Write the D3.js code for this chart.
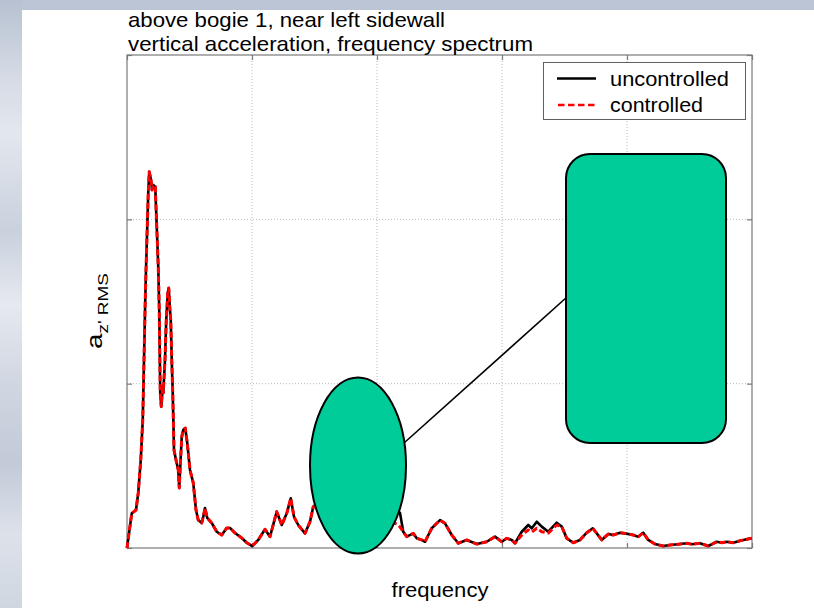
<!DOCTYPE html>
<html>
<head>
<meta charset="utf-8">
<script src="https://cdn.jsdelivr.net/npm/d3@7"></script>
<style>
  html, body { margin: 0; padding: 0; background: #fff; }
  svg { display: block; font-family: "Liberation Sans", Arial, sans-serif; }
</style>
</head>
<body>
<svg id="chart" width="814" height="608"></svg>
<script>
// Frequency axis samples (arbitrary units, 0..50) and RMS vertical acceleration
const freq = [
  0.00, 0.38, 0.72, 0.90, 1.10, 1.26, 1.36, 1.46, 1.52, 1.62, 1.70, 1.78, 1.92, 2.00, 2.10, 2.26,
  2.38, 2.50, 2.58, 2.66, 2.74, 2.86, 2.90, 3.04, 3.14, 3.26, 3.34, 3.42, 3.50, 3.58, 3.66, 3.76,
  3.92, 4.10, 4.18, 4.26, 4.38, 4.50, 4.66, 4.82, 5.04, 5.30, 5.52, 5.70, 5.98, 6.10, 6.24, 6.42,
  6.78, 7.18, 7.58, 7.98, 8.24, 8.64, 9.18, 9.58, 10.02, 10.50, 11.04, 11.44, 11.98, 12.38, 12.78, 13.10,
  13.36, 13.70, 14.24, 14.64, 14.90, 15.28, 15.84, 16.48, 17.20, 18.00, 18.80, 19.60, 20.40, 21.04, 21.60, 21.84,
  22.10, 22.38, 22.90, 23.18, 23.58, 23.84, 24.38, 25.04, 25.44, 25.98, 26.50, 27.18, 27.98, 28.78, 29.44, 29.98,
  30.38, 30.78, 31.04, 31.58, 32.10, 32.38, 32.78, 33.18, 33.70, 34.38, 34.78, 35.18, 35.70, 36.24, 36.78, 37.26,
  37.58, 37.98, 38.50, 38.90, 39.44, 39.84, 40.10, 40.50, 40.90, 41.30, 41.70, 42.24, 42.90, 43.44, 44.10, 44.78,
  45.18, 45.84, 46.50, 47.18, 47.58, 47.98, 48.50, 49.04, 49.58, 49.98
];

const uncontrolled = [
  0.000, 0.211, 0.231, 0.335, 0.536, 0.779, 1.144, 1.509, 1.692, 1.953, 2.160, 2.290, 2.239, 2.179, 2.209, 2.199,
  1.955, 1.712, 1.448, 0.943, 0.860, 0.982, 0.943, 1.144, 1.387, 1.552, 1.582, 1.468, 1.387, 1.144, 0.943, 0.596,
  0.536, 0.475, 0.365, 0.495, 0.677, 0.718, 0.730, 0.639, 0.475, 0.396, 0.231, 0.170, 0.152, 0.190, 0.243, 0.183,
  0.152, 0.099, 0.079, 0.122, 0.122, 0.091, 0.061, 0.032, 0.012, 0.049, 0.114, 0.069, 0.221, 0.140, 0.211, 0.302,
  0.190, 0.140, 0.089, 0.160, 0.251, 0.274, 0.201, 0.140, 0.170, 0.110, 0.158, 0.122, 0.183, 0.158, 0.231, 0.213,
  0.099, 0.069, 0.089, 0.059, 0.049, 0.038, 0.120, 0.170, 0.150, 0.079, 0.029, 0.049, 0.024, 0.038, 0.069, 0.038,
  0.059, 0.049, 0.029, 0.099, 0.140, 0.120, 0.160, 0.130, 0.099, 0.154, 0.130, 0.059, 0.032, 0.049, 0.093, 0.120,
  0.089, 0.049, 0.085, 0.079, 0.093, 0.089, 0.085, 0.079, 0.069, 0.093, 0.049, 0.024, 0.012, 0.018, 0.023, 0.029,
  0.023, 0.029, 0.012, 0.038, 0.032, 0.038, 0.032, 0.044, 0.053, 0.059
];

const controlled = [
  0.000, 0.211, 0.231, 0.335, 0.536, 0.779, 1.144, 1.509, 1.692, 1.953, 2.160, 2.290, 2.239, 2.179, 2.209, 2.199,
  1.955, 1.712, 1.448, 0.943, 0.860, 0.982, 0.943, 1.144, 1.387, 1.552, 1.582, 1.468, 1.387, 1.144, 0.943, 0.596,
  0.536, 0.475, 0.365, 0.495, 0.677, 0.718, 0.730, 0.639, 0.475, 0.396, 0.231, 0.170, 0.152, 0.190, 0.243, 0.183,
  0.152, 0.099, 0.079, 0.122, 0.122, 0.091, 0.061, 0.032, 0.012, 0.049, 0.114, 0.069, 0.221, 0.140, 0.211, 0.302,
  0.190, 0.140, 0.089, 0.160, 0.251, 0.274, 0.201, 0.140, 0.170, 0.110, 0.158, 0.122, 0.183, 0.158, 0.146, 0.128,
  0.099, 0.069, 0.089, 0.059, 0.049, 0.038, 0.120, 0.170, 0.150, 0.079, 0.029, 0.049, 0.024, 0.038, 0.069, 0.038,
  0.059, 0.049, 0.029, 0.079, 0.110, 0.097, 0.120, 0.099, 0.091, 0.140, 0.130, 0.059, 0.032, 0.049, 0.093, 0.120,
  0.089, 0.049, 0.085, 0.079, 0.093, 0.089, 0.085, 0.079, 0.069, 0.093, 0.049, 0.024, 0.012, 0.018, 0.023, 0.029,
  0.023, 0.029, 0.012, 0.038, 0.032, 0.038, 0.032, 0.044, 0.053, 0.059
];

// Grid / tick positions (axes carry no tick labels)
const xTicks = [0, 10, 20, 30, 40, 50];
const yTicks = [0, 1, 2, 3];

const titleLines = ["above bogie 1, near left sidewall", "vertical acceleration, frequency spectrum"];
const seriesNames = ["uncontrolled", "controlled"];
const xLabel = "frequency";

const svg = d3.select("#chart");
const W = 814, H = 608;
const plot = { left: 127, top: 55, right: 752, bottom: 548 };

// --- slide background: bluish-grey band at top and cloudy strip on the left
const defs = svg.append("defs");
const lg = defs.append("linearGradient").attr("id", "leftStrip")
  .attr("x1", 0).attr("y1", 0).attr("x2", 0).attr("y2", 1);
[[0, "#b7c1d1"], [0.12, "#d4dae4"], [0.22, "#e3e7ee"], [0.38, "#c9d1dd"], [0.5, "#e6e9ef"],
 [0.62, "#d2d8e2"], [0.76, "#c2cad8"], [0.88, "#dde2ea"], [1, "#cfd6e0"]]
  .forEach(([o, c]) => lg.append("stop").attr("offset", o).attr("stop-color", c));

svg.append("rect").attr("x", 0).attr("y", 0).attr("width", W).attr("height", H).attr("fill", "#fff");
svg.append("rect").attr("x", 0).attr("y", 0).attr("width", W).attr("height", 10).attr("fill", "#bcc5d5");
svg.append("rect").attr("x", 0).attr("y", 0).attr("width", 22).attr("height", H)
  .attr("fill", "url(#leftStrip)");

// --- scales
const x = d3.scaleLinear().domain([0, 50]).range([plot.left, plot.right]);
const y = d3.scaleLinear().domain([0, 3]).range([plot.bottom, plot.top]);

const g = svg.append("g");

// dotted grid
g.append("g").selectAll("line").data(xTicks.slice(1, -1)).join("line")
  .attr("x1", d => x(d)).attr("x2", d => x(d))
  .attr("y1", plot.top).attr("y2", plot.bottom)
  .attr("stroke", "#b8b8b8").attr("stroke-width", 1).attr("stroke-dasharray", "1,2");
g.append("g").selectAll("line").data(yTicks.slice(1, -1)).join("line")
  .attr("x1", plot.left).attr("x2", plot.right)
  .attr("y1", d => y(d)).attr("y2", d => y(d))
  .attr("stroke", "#b8b8b8").attr("stroke-width", 1).attr("stroke-dasharray", "1,2");

// axes with inward ticks and no labels, mirrored on the opposite sides
const tickLen = 5;
const axisStyle = sel => {
  sel.select(".domain").remove();
  sel.selectAll("text").remove();
  sel.selectAll("line").attr("stroke", "#7a7a7a").attr("stroke-width", 1.2);
};
g.append("g").attr("transform", `translate(0,${plot.bottom})`)
  .call(d3.axisBottom(x).tickValues(xTicks).tickSize(-tickLen).tickFormat("")).call(axisStyle);
g.append("g").attr("transform", `translate(0,${plot.top})`)
  .call(d3.axisTop(x).tickValues(xTicks).tickSize(-tickLen).tickFormat("")).call(axisStyle);
g.append("g").attr("transform", `translate(${plot.left},0)`)
  .call(d3.axisLeft(y).tickValues(yTicks).tickSize(-tickLen).tickFormat("")).call(axisStyle);
g.append("g").attr("transform", `translate(${plot.right},0)`)
  .call(d3.axisRight(y).tickValues(yTicks).tickSize(-tickLen).tickFormat("")).call(axisStyle);

g.append("rect").attr("x", plot.left).attr("y", plot.top)
  .attr("width", plot.right - plot.left).attr("height", plot.bottom - plot.top)
  .attr("fill", "none").attr("stroke", "#7a7a7a").attr("stroke-width", 1.2);

// spectra
const line = d3.line().x((d, i) => x(freq[i])).y(d => y(d));
g.append("path").datum(uncontrolled).attr("d", line)
  .attr("fill", "none").attr("stroke", "#000").attr("stroke-width", 2.6)
  .attr("stroke-linejoin", "round");
g.append("path").datum(controlled).attr("d", line)
  .attr("fill", "none").attr("stroke", "#ff0000").attr("stroke-width", 3)
  .attr("stroke-dasharray", "6,3").attr("stroke-linejoin", "round");

// titles
const title = svg.append("g").attr("font-size", 21).attr("fill", "#000");
title.append("text").attr("x", 128).attr("y", 27).text(titleLines[0])
  .attr("textLength", 317).attr("lengthAdjust", "spacingAndGlyphs");
title.append("text").attr("x", 128).attr("y", 51).text(titleLines[1])
  .attr("textLength", 405).attr("lengthAdjust", "spacingAndGlyphs");

// x label
svg.append("text").attr("x", 440).attr("y", 597).attr("text-anchor", "middle")
  .attr("font-size", 21).text(xLabel)
  .attr("textLength", 97).attr("lengthAdjust", "spacingAndGlyphs");

// y label a_{z' RMS}
const yl = svg.append("text").attr("transform", "translate(102,349) rotate(-90)")
  .attr("font-size", 22).attr("textLength", 76).attr("lengthAdjust", "spacingAndGlyphs");
yl.append("tspan").text("a");
yl.append("tspan").attr("font-size", 15).attr("dy", 6).text("z' RMS");

// legend
const leg = svg.append("g");
leg.append("rect").attr("x", 543.5).attr("y", 62.5).attr("width", 202).attr("height", 57)
  .attr("fill", "#fff").attr("stroke", "#606060").attr("stroke-width", 1);
leg.append("line").attr("x1", 557).attr("x2", 596).attr("y1", 78.5).attr("y2", 78.5)
  .attr("stroke", "#000").attr("stroke-width", 2.5);
leg.append("line").attr("x1", 558).attr("x2", 596).attr("y1", 105).attr("y2", 105)
  .attr("stroke", "#ff0000").attr("stroke-width", 2.5).attr("stroke-dasharray", "6.5,3.5");
leg.append("text").attr("x", 610).attr("y", 86).attr("font-size", 21).text(seriesNames[0])
  .attr("textLength", 119).attr("lengthAdjust", "spacingAndGlyphs");
leg.append("text").attr("x", 610).attr("y", 112).attr("font-size", 21).text(seriesNames[1])
  .attr("textLength", 93).attr("lengthAdjust", "spacingAndGlyphs");

// callout shapes drawn over the spectrum
const teal = "#00cc99";
svg.append("line").attr("x1", 404).attr("y1", 443).attr("x2", 567).attr("y2", 297)
  .attr("stroke", "#000").attr("stroke-width", 1.6);
svg.append("ellipse").attr("cx", 358).attr("cy", 465.5).attr("rx", 48).attr("ry", 88)
  .attr("fill", teal).attr("stroke", "#000").attr("stroke-width", 2);
svg.append("rect").attr("x", 566).attr("y", 154).attr("width", 160).attr("height", 289)
  .attr("rx", 24).attr("ry", 24)
  .attr("fill", teal).attr("stroke", "#000").attr("stroke-width", 2);
</script>
</body>
</html>
